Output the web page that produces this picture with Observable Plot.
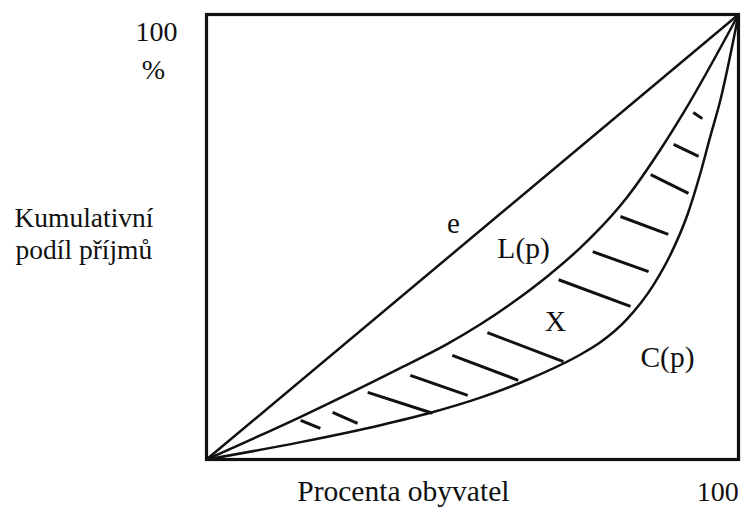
<!DOCTYPE html>
<html>
<head>
<meta charset="utf-8">
<script src="https://cdn.jsdelivr.net/npm/d3@7"></script>
<script src="https://cdn.jsdelivr.net/npm/@observablehq/plot@0.6"></script>
<style>
  html, body { margin: 0; padding: 0; background: #fff; }
  #chart svg { display: block; }
</style>
</head>
<body>
<div id="chart"></div>
<script>
// Equality line e
const equalityX = [0, 100];
const equalityY = [0, 100];

// Lorenz curve L(p)
const lorenzX = [0, 17.7, 36.5, 45.3, 51.5, 57.7, 64.1, 70.3, 72.7, 79.1, 85.3, 89.7, 100];
const lorenzY = [0, 9.6, 20.6, 26.0, 30.4, 35.4, 41.2, 47.6, 50.4, 59.0, 69.6, 78.0, 100];

// Concentration curve C(p)
const concX = [0, 17.7, 32.7, 42.1, 51.5, 60.9, 70.3, 74.1, 79.0, 84.0, 87.2, 90.4, 92.9, 94.7, 96.6, 100];
const concY = [0, 3.9, 7.7, 10.5, 13.9, 18.2, 23.6, 26.4, 31.5, 39.2, 46.0, 55.0, 64.6, 72.6, 80.8, 100];

// Hatch segments in area X
const hatchX1 = [17.7, 23.7, 30.3, 38.3, 46.2, 52.8, 66.2, 72.6, 77.8, 83.5, 87.8, 91.5];
const hatchY1 = [8.8, 10.6, 15.1, 18.9, 23.4, 28.5, 40.4, 46.7, 54.6, 64.0, 70.8, 78.0];
const hatchX2 = [21.4, 28.4, 42.5, 49.1, 58.6, 67.1, 79.7, 83.1, 86.8, 90.6, 92.5, 93.2];
const hatchY2 = [7.0, 8.1, 10.4, 14.4, 17.8, 22.0, 34.4, 42.2, 50.6, 59.8, 68.1, 76.6];

// Texts
const curveLabels = ["e", "L(p)", "X", "C(p)"];
const yTopLabel = ["100", "%"];
const yTitle = ["Kumulativní", "podíl příjmů"];
const xTitle = "Procenta obyvatel";
const xEndLabel = "100";

const toPts = (xs, ys) => xs.map((x, i) => ({x, y: ys[i]}));
const hatches = hatchX1.map((x1, i) => ({x1, y1: hatchY1[i], x2: hatchX2[i], y2: hatchY2[i]}));

const font = "'Liberation Serif', 'Times New Roman', serif";
const ink = "#111";

const chart = Plot.plot({
  width: 741,
  height: 508,
  marginLeft: 206,
  marginRight: 3,
  marginTop: 14,
  marginBottom: 49,
  x: {domain: [0, 100], axis: null},
  y: {domain: [0, 100], axis: null},
  style: {fontFamily: font, background: "#fff"},
  marks: [
    Plot.line(toPts(equalityX, equalityY), {x: "x", y: "y", stroke: ink, strokeWidth: 2.5}),
    Plot.line(toPts(lorenzX, lorenzY), {x: "x", y: "y", stroke: ink, strokeWidth: 2.5, curve: "monotone-x"}),
    Plot.line(toPts(concX, concY), {x: "x", y: "y", stroke: ink, strokeWidth: 2.5, curve: "monotone-x"}),
    Plot.link(hatches, {x1: "x1", y1: "y1", x2: "x2", y2: "y2", stroke: ink, strokeWidth: 3}),
    Plot.frame({stroke: ink, strokeWidth: 3.2}),
    // in-plot labels
    Plot.text([curveLabels[0]], {x: 46.4, y: 52.9, text: d => d, fontSize: 29, fill: ink}),
    Plot.text([curveLabels[1]], {x: 59.6, y: 47.3, text: d => d, fontSize: 29.5, fill: ink}),
    Plot.text([curveLabels[2]], {x: 65.6, y: 31.1, text: d => d, fontSize: 29.5, fill: ink}),
    Plot.text([curveLabels[3]], {x: 86.65, y: 22.8, text: d => d, fontSize: 29.5, fill: ink}),
    // margin labels
    Plot.text([yTopLabel[0]], {x: -9.4, y: 96.0, text: d => d, fontSize: 28, fill: ink}),
    Plot.text([yTopLabel[1]], {x: -9.96, y: 87.6, text: d => d, fontSize: 28, fill: ink}),
    Plot.text([yTitle[0]], {x: -36.1, y: 54.3, text: d => d, fontSize: 27.5, fill: ink, textAnchor: "start"}),
    Plot.text([yTitle[1]], {x: -35.9, y: 47.1, text: d => d, fontSize: 27.5, fill: ink, textAnchor: "start"}),
    Plot.text([xTitle], {x: 37.0, y: -7.3, text: d => d, fontSize: 29.5, fill: ink}),
    Plot.text([xEndLabel], {x: 96.1, y: -7.3, text: d => d, fontSize: 28, fill: ink})
  ]
});
document.getElementById("chart").appendChild(chart);
</script>
</body>
</html>
